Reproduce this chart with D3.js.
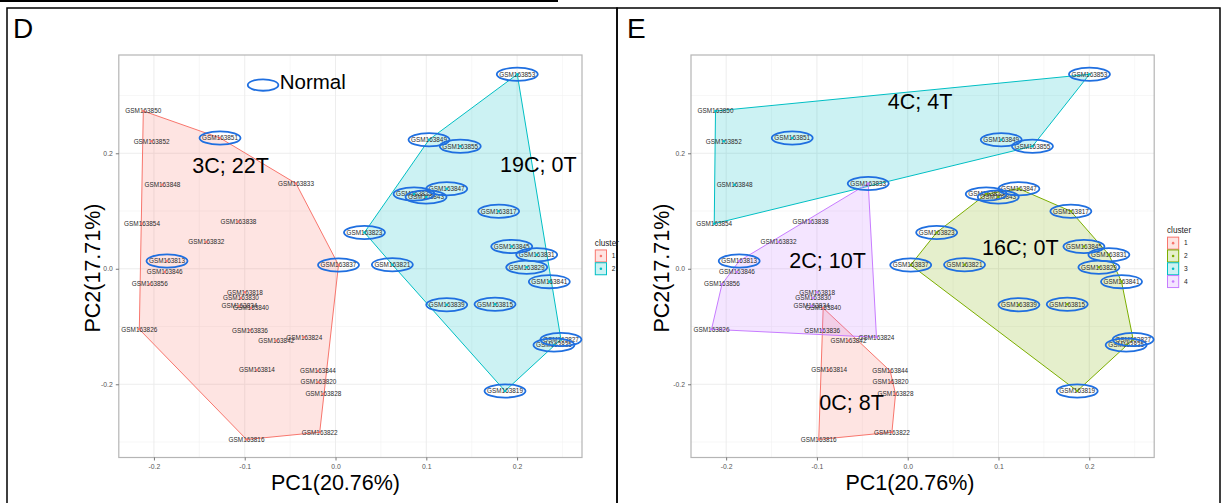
<!DOCTYPE html>
<html>
<head>
<meta charset="utf-8">
<script src="https://cdn.jsdelivr.net/npm/d3@7"></script>
<style>
  html, body { margin: 0; padding: 0; background: #fff; }
  svg { display: block; font-family: "Liberation Sans", Arial, Helvetica, sans-serif; }
</style>
</head>
<body>
<svg id="fig" width="1221" height="503"></svg>
<script>
// ---- PCA coordinates of the 44 arrays ----
const samples = [
  "GSM163813","GSM163814","GSM163815","GSM163816","GSM163817","GSM163818","GSM163819","GSM163820",
  "GSM163821","GSM163822","GSM163823","GSM163824","GSM163825","GSM163826","GSM163827","GSM163828",
  "GSM163829","GSM163830","GSM163831","GSM163832","GSM163833","GSM163834","GSM163835","GSM163836",
  "GSM163837","GSM163838","GSM163839","GSM163840","GSM163841","GSM163842","GSM163843","GSM163844",
  "GSM163845","GSM163846","GSM163847","GSM163848","GSM163849","GSM163850","GSM163851","GSM163852",
  "GSM163853","GSM163854","GSM163855","GSM163856"
];
const pc1 = [
  -0.1856,-0.0865, 0.1757,-0.0980, 0.1797,-0.0997, 0.1867,-0.0189,
   0.0626,-0.0174, 0.0319,-0.0344, 0.0865,-0.2161, 0.2483,-0.0134,
   0.2106,-0.1041, 0.2216,-0.1423,-0.0435,-0.1059, 0.2406,-0.0942,
   0.0033,-0.1070, 0.1225,-0.0931, 0.2355,-0.0652, 0.0997,-0.0193,
   0.1941,-0.1881, 0.1225,-0.1907, 0.1030,-0.2117,-0.1272,-0.2026,
   0.2002,-0.2131, 0.1374,-0.2046
];
const pc2 = [
   0.0135,-0.1752,-0.0615,-0.2956, 0.0996,-0.0407,-0.2116,-0.1965,
   0.0071,-0.2831, 0.0629,-0.1186, 0.1295,-0.1048,-0.1224,-0.2168,
   0.0026,-0.0506, 0.0244, 0.0464, 0.1477,-0.0644,-0.1319,-0.1065,
   0.0066, 0.0816,-0.0622,-0.0679,-0.0223,-0.1245, 0.1243,-0.1770,
   0.0386,-0.0055, 0.1387, 0.1456, 0.2235, 0.2732, 0.2265, 0.2208,
   0.3368, 0.0781, 0.2121,-0.0268
];

// ---- cluster assignments (k = 2 and k = 4) ----
const clusterD = [
  1,1,2,1,2,1,2,1, 2,1,2,1,2,1,2,1, 2,1,2,1,1,1,2,1,
  1,1,2,1,2,1,2,1, 2,1,2,1,2,1,1,1, 2,1,2,1
];
const clusterE = [
  4,1,2,1,2,4,2,1, 2,1,2,4,2,4,2,1, 2,4,2,4,4,4,2,4,
  2,4,2,1,2,1,2,1, 2,4,2,3,3,3,3,3, 3,3,3,4
];

// ---- arrays marked as normal tissue ----
const normalD = [
  "GSM163851","GSM163813","GSM163837","GSM163853","GSM163849","GSM163855","GSM163847",
  "GSM163825","GSM163843","GSM163817","GSM163823","GSM163845","GSM163831","GSM163829",
  "GSM163821","GSM163841","GSM163839","GSM163815","GSM163827","GSM163835","GSM163819"
];
const normalE = [
  "GSM163851","GSM163853","GSM163849","GSM163855","GSM163833","GSM163813","GSM163837",
  "GSM163823","GSM163821","GSM163847","GSM163825","GSM163843","GSM163817","GSM163845",
  "GSM163831","GSM163829","GSM163841","GSM163839","GSM163815","GSM163827","GSM163835","GSM163819"
];

// ---- cluster composition labels (placed in PC space) ----
const annotTextD = ["3C; 22T", "19C; 0T"];
const annotXD    = [-0.1156, 0.2234];
const annotYD    = [0.1664, 0.1671];
const annotTextE = ["4C; 4T", "16C; 0T", "2C; 10T", "0C; 8T"];
const annotXE    = [0.0136, 0.1240, -0.0883, -0.0618];
const annotYE    = [0.2762, 0.0239, 0.0019, -0.2445];

// ---- axes ----
const xTicks = [-0.2, -0.1, 0.0, 0.1, 0.2];
const yTicks = [-0.2, 0.0, 0.2];
const xMinor = [-0.15, -0.05, 0.05, 0.15, 0.25];
const yMinor = [-0.3, -0.1, 0.1, 0.3];
const xTitle = "PC1(20.76%)";
const yTitle = "PC2(17.71%)";

const paletteD = ["#F8766D", "#00BFC4"];
const paletteE = ["#F8766D", "#7CAE00", "#00BFC4", "#C77CFF"];

// ---- layout ----
const svg = d3.select("#fig");
const xDomain = [-0.2387, 0.2715];
const yDomain = [-0.3268, 0.3702];
const plotW = 463.2, plotTop = 55, plotBottom = 457.5;
const ellipseBlue = "#1f6fe0";

// figure frames
svg.append("line").attr("x1", 0).attr("x2", 558).attr("y1", 1).attr("y2", 1)
  .attr("stroke", "#000").attr("stroke-width", 2);
svg.append("rect").attr("x", 7).attr("y", 8).attr("width", 610).attr("height", 510)
  .attr("fill", "none").attr("stroke", "#000").attr("stroke-width", 1.5);
svg.append("rect").attr("x", 617).attr("y", 8).attr("width", 603).attr("height", 510)
  .attr("fill", "none").attr("stroke", "#000").attr("stroke-width", 1.5);

const idx = d3.range(samples.length);

function drawPanel(p) {
  const g = svg.append("g");
  const x = d3.scaleLinear().domain(xDomain).range([p.left, p.left + plotW]);
  const y = d3.scaleLinear().domain(yDomain).range([plotBottom, plotTop]);
  const color = d3.scaleOrdinal().domain(d3.range(1, p.palette.length + 1)).range(p.palette);

  // panel letter
  g.append("text").attr("x", p.letterX).attr("y", 38).attr("font-size", 28)
    .attr("fill", "#000").text(p.letter);

  // grid
  const grid = g.append("g");
  grid.selectAll("line.xmin").data(xMinor.filter(v => v > xDomain[0] && v < xDomain[1])).join("line")
    .attr("x1", d => x(d)).attr("x2", d => x(d)).attr("y1", plotTop).attr("y2", plotBottom)
    .attr("stroke", "#f2f2f2").attr("stroke-width", 0.6);
  grid.selectAll("line.ymin").data(yMinor).join("line")
    .attr("y1", d => y(d)).attr("y2", d => y(d)).attr("x1", p.left).attr("x2", p.left + plotW)
    .attr("stroke", "#f2f2f2").attr("stroke-width", 0.6);
  grid.selectAll("line.xmaj").data(xTicks).join("line")
    .attr("x1", d => x(d)).attr("x2", d => x(d)).attr("y1", plotTop).attr("y2", plotBottom)
    .attr("stroke", "#ebebeb").attr("stroke-width", 0.9);
  grid.selectAll("line.ymaj").data(yTicks).join("line")
    .attr("y1", d => y(d)).attr("y2", d => y(d)).attr("x1", p.left).attr("x2", p.left + plotW)
    .attr("stroke", "#ebebeb").attr("stroke-width", 0.9);

  // convex hulls per cluster
  const groups = d3.group(idx, i => p.cluster[i]);
  const keys = Array.from(groups.keys()).sort(d3.ascending);
  keys.forEach(k => {
    const pts = groups.get(k).map(i => [x(pc1[i]), y(pc2[i])]);
    const hull = d3.polygonHull(pts);
    g.append("path")
      .attr("d", "M" + hull.map(q => q.join(",")).join("L") + "Z")
      .attr("fill", color(k)).attr("fill-opacity", 0.2)
      .attr("stroke", color(k)).attr("stroke-width", 1);
  });

  // sample labels and points
  g.append("g").selectAll("text").data(idx).join("text")
    .attr("x", i => x(pc1[i])).attr("y", i => y(pc2[i]))
    .attr("dy", "0.35em").attr("text-anchor", "middle")
    .attr("font-size", 6.4).attr("fill", "#2b2b2b")
    .text(i => samples[i]);
  g.append("g").selectAll("circle").data(idx).join("circle")
    .attr("cx", i => x(pc1[i])).attr("cy", i => y(pc2[i])).attr("r", 1.3)
    .attr("fill", i => color(p.cluster[i]));

  // plot border
  g.append("rect").attr("x", p.left).attr("y", plotTop).attr("width", plotW)
    .attr("height", plotBottom - plotTop).attr("fill", "none")
    .attr("stroke", "#b5b5b5").attr("stroke-width", 1.2);

  // normal-tissue rings
  const ringed = idx.filter(i => p.normal.includes(samples[i]));
  g.append("g").selectAll("ellipse").data(ringed).join("ellipse")
    .attr("cx", i => x(pc1[i])).attr("cy", i => y(pc2[i]))
    .attr("rx", 20.5).attr("ry", 6.6)
    .attr("fill", "none").attr("stroke", ellipseBlue).attr("stroke-width", 1.8);

  // axes
  const fmt = d => d.toFixed(1);
  const ax = g.append("g").attr("transform", `translate(0,${plotBottom})`)
    .call(d3.axisBottom(x).tickValues(xTicks).tickFormat(fmt).tickSize(3).tickPadding(4));
  const ay = g.append("g").attr("transform", `translate(${p.left},0)`)
    .call(d3.axisLeft(y).tickValues(yTicks).tickFormat(fmt).tickSize(3).tickPadding(3));
  [ax, ay].forEach(a => {
    a.select(".domain").remove();
    a.selectAll(".tick line").attr("stroke", "#555").attr("stroke-width", 0.8);
    a.selectAll(".tick text").attr("fill", "#555").attr("font-size", 6.8)
      .attr("font-family", "Liberation Sans, Arial, sans-serif");
  });

  // axis titles
  g.append("text").attr("x", p.xTitleX).attr("y", 490).attr("text-anchor", "middle")
    .attr("font-size", 21.5).attr("fill", "#000").text(xTitle);
  g.append("text").attr("transform", `translate(${p.yTitleX},268) rotate(-90)`)
    .attr("text-anchor", "middle").attr("font-size", 21.5).attr("fill", "#000").text(yTitle);

  // cluster legend, centred on the plot height
  const step = 12.8, titleBlock = 13;
  const lx = p.left + plotW + 12.8;
  const ltop = (plotTop + plotBottom) / 2 - (titleBlock + keys.length * step) / 2;
  const lg = g.append("g");
  lg.append("text").attr("x", lx).attr("y", ltop + 8.8).attr("font-size", 8.2)
    .attr("fill", "#222").text("cluster");
  keys.forEach((k, j) => {
    const ky = ltop + titleBlock + j * step;
    lg.append("rect").attr("x", lx + 0.5).attr("y", ky).attr("width", 11.2).attr("height", 12)
      .attr("fill", color(k)).attr("fill-opacity", 0.2)
      .attr("stroke", color(k)).attr("stroke-width", 1);
    lg.append("circle").attr("cx", lx + 6.1).attr("cy", ky + 6).attr("r", 1.3).attr("fill", color(k));
    lg.append("text").attr("x", lx + 17).attr("y", ky + 6).attr("dy", "0.35em")
      .attr("font-size", 6.6).attr("fill", "#222").text(k);
  });

  // composition labels
  p.annotText.forEach((t, j) => {
    g.append("text").attr("x", x(p.annotX[j])).attr("y", y(p.annotY[j]))
      .attr("text-anchor", "middle").attr("font-size", 21.5).attr("fill", "#000").text(t);
  });

  return { x, y };
}

const sD = drawPanel({
  letter: "D", letterX: 13, left: 118.8, cluster: clusterD, normal: normalD, palette: paletteD,
  annotText: annotTextD, annotX: annotXD, annotY: annotYD, xTitleX: 335.5, yTitleX: 100
});
drawPanel({
  letter: "E", letterX: 627, left: 691, cluster: clusterE, normal: normalE, palette: paletteE,
  annotText: annotTextE, annotX: annotXE, annotY: annotYE, xTitleX: 910, yTitleX: 669
});

// "Normal" key inside panel D
svg.append("ellipse").attr("cx", sD.x(-0.0798)).attr("cy", sD.y(0.3182))
  .attr("rx", 15.3).attr("ry", 5.7).attr("fill", "none")
  .attr("stroke", ellipseBlue).attr("stroke-width", 1.8);
svg.append("text").attr("x", sD.x(-0.0615)).attr("y", sD.y(0.3113))
  .attr("font-size", 20.5).attr("fill", "#000").text("Normal");
</script>
</body>
</html>
